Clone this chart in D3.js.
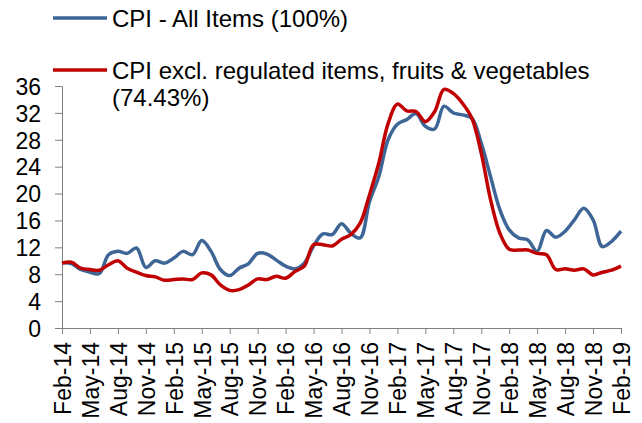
<!DOCTYPE html>
<html>
<head>
<meta charset="utf-8">
<script src="https://cdn.jsdelivr.net/npm/d3@7"></script>
<style>
  body { margin: 0; background: #fff; }
  svg { display: block; font-family: Arial, "Liberation Sans", sans-serif; }
  .axis path, .axis line { stroke: #808080; }
  .axis text { fill: #000; font-size: 23px; }
</style>
</head>
<body>
<svg id="chart" width="642" height="423"></svg>
<script>
// monthly, Feb-14 .. Feb-19
var cpiAll = [9.7, 9.6, 8.7, 8.3, 8.1, 10.9, 11.4, 11.1, 11.9, 9.0, 10.0, 9.65,
  10.4, 11.4, 10.9, 13.0, 11.4, 8.7, 7.8, 8.9, 9.55, 11.1, 11.0, 10.1,
  9.2, 8.8, 9.65, 12.2, 14.0, 13.9, 15.5, 14.1, 13.4, 18.8, 22.5, 28.0,
  30.3, 31.0, 31.9, 30.0, 29.6, 33.0, 32.0, 31.7, 31.2, 27.5, 22.5, 17.6,
  14.6, 13.4, 13.1, 11.4, 14.5, 13.5, 14.4, 16.1, 17.8, 16.1, 12.1, 12.9, 14.4];
var cpiCore = [9.65, 9.8, 8.9, 8.7, 8.6, 9.4, 10.0, 8.9, 8.3, 7.8, 7.6, 7.1,
  7.2, 7.3, 7.2, 8.2, 7.9, 6.4, 5.6, 5.7, 6.4, 7.3, 7.2, 7.7,
  7.4, 8.4, 9.2, 12.4, 12.4, 12.2, 13.2, 13.9, 15.6, 19.8, 24.5, 30.4,
  33.3, 32.3, 32.2, 30.7, 32.2, 35.5, 34.9, 33.4, 31.2, 26.0, 19.1, 14.1,
  11.7, 11.6, 11.6, 11.1, 10.9, 8.7, 8.8, 8.6, 8.8, 7.9, 8.3, 8.6, 9.2];
var tickLabels = ["Feb-14", "May-14", "Aug-14", "Nov-14", "Feb-15", "May-15", "Aug-15",
  "Nov-15", "Feb-16", "May-16", "Aug-16", "Nov-16", "Feb-17", "May-17", "Aug-17",
  "Nov-17", "Feb-18", "May-18", "Aug-18", "Nov-18", "Feb-19"];
var yTicks = [0, 4, 8, 12, 16, 20, 24, 28, 32, 36];
var seriesNames = ["CPI - All Items (100%)", "CPI excl. regulated items, fruits & vegetables", "(74.43%)"];
var colors = ["#3d6595", "#c00000"];

var svg = d3.select("#chart");

var x = d3.scaleLinear().domain([0, cpiAll.length - 1]).range([62, 621]);
var y = d3.scaleLinear().domain([0, 36]).range([328, 86]);

// axes
svg.append("g")
  .attr("class", "axis")
  .attr("transform", "translate(62,0)")
  .call(d3.axisLeft(y).tickValues(yTicks).tickSize(7).tickPadding(14))
  .call(g => g.selectAll("text").attr("dy", "0.36em"));

svg.append("g")
  .attr("class", "axis")
  .attr("transform", "translate(0,328)")
  .call(d3.axisBottom(x).tickValues(d3.range(0, 61, 3)).tickSize(6)
    .tickFormat((d, i) => tickLabels[i]))
  .call(g => g.selectAll("text")
    .attr("text-anchor", "end")
    .attr("transform", "rotate(-90)")
    .attr("x", -14)
    .attr("y", 0)
    .attr("dy", "0.36em"));

// lines
var line = d3.line()
  .x((d, i) => x(i))
  .y(d => y(d))
  .curve(d3.curveCatmullRom.alpha(0.5));

[cpiAll, cpiCore].forEach((s, k) => {
  svg.append("path")
    .datum(s)
    .attr("fill", "none")
    .attr("stroke", colors[k])
    .attr("stroke-width", 3.5)
    .attr("stroke-linejoin", "round")
    .attr("d", line);
});

// legend
var legend = svg.append("g");
[[18, 0], [70, 1]].forEach(([ly, k]) => {
  legend.append("line")
    .attr("x1", 53).attr("x2", 107)
    .attr("y1", ly).attr("y2", ly)
    .attr("stroke", colors[k]).attr("stroke-width", 3.5);
  legend.append("text")
    .attr("x", 112).attr("y", ly)
    .attr("dy", "0.36em")
    .attr("font-size", 24)
    .text(seriesNames[k]);
});
legend.append("text")
  .attr("x", 112).attr("y", 97)
  .attr("dy", "0.36em")
  .attr("font-size", 24)
  .text(seriesNames[2]);
</script>
</body>
</html>
